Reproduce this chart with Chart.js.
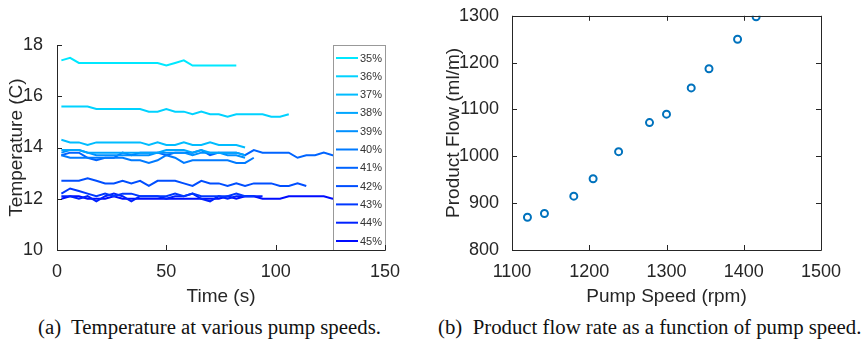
<!DOCTYPE html>
<html>
<head>
<meta charset="utf-8">
<script src="https://cdn.jsdelivr.net/npm/chart.js@4.4.1/dist/chart.umd.min.js"></script>
<style>
  body { margin: 0; background: #fff; width: 867px; height: 346px; position: relative; overflow: hidden; }
  canvas { position: absolute; top: 0; }
  #left { left: 0; }
  #right { left: 430px; }
  .cap { position: absolute; top: 315px; font-family: "Liberation Serif", "Times New Roman", serif; font-size: 20.8px; color: #111; white-space: pre; }
</style>
</head>
<body>
<canvas id="left" width="430" height="310"></canvas>
<canvas id="right" width="437" height="310"></canvas>
<div class="cap" id="capA" style="left:38px">(a)  Temperature at various pump speeds.</div>
<div class="cap" id="capB" style="left:438px">(b)  Product flow rate as a function of pump speed.</div>
<script>
// time samples (s) shared by all temperature runs
const times = [2, 6, 10, 14, 18, 22, 26, 30, 34, 38, 42, 46, 50, 54, 58, 62, 66, 70, 74, 78,
  82, 86, 90, 94, 98, 102, 106, 110, 114, 118, 122, 126, 130, 134, 138, 142, 146, 150];

const speedLabels = ["35%", "36%", "37%", "38%", "39%", "40%", "41%", "42%", "43%", "44%", "45%"];

const temp35 = [17.4, 17.5, 17.3, 17.3, 17.3, 17.3, 17.3, 17.3, 17.3, 17.3, 17.3, 17.3, 17.2, 17.3, 17.4, 17.2, 17.2, 17.2, 17.2, 17.2, 17.2];
const temp36 = [15.6, 15.6, 15.6, 15.6, 15.5, 15.5, 15.5, 15.5, 15.5, 15.5, 15.4, 15.4, 15.5, 15.4, 15.4, 15.3, 15.4, 15.3, 15.3, 15.2, 15.3, 15.3, 15.3, 15.3, 15.2, 15.2, 15.3];
const temp37 = [14.3, 14.2, 14.2, 14.1, 14.2, 14.2, 14.2, 14.2, 14.2, 14.2, 14.1, 14.2, 14.1, 14.1, 14.2, 14.1, 14.1, 14.2, 14.1, 14.1, 14.1, 14.0];
const temp38 = [13.9, 13.9, 13.9, 13.8, 13.8, 13.8, 13.8, 13.8, 13.8, 13.8, 13.8, 13.8, 13.9, 13.9, 13.9, 13.8, 13.9, 13.8, 13.8, 13.8, 13.8, 13.7];
const temp39 = [13.8, 13.9, 13.9, 13.8, 13.7, 13.7, 13.7, 13.7, 13.7, 13.7, 13.7, 13.8, 13.8, 13.8, 13.8, 13.7, 13.8, 13.8, 13.8, 13.7, 13.7, 13.6];
const temp40 = [13.7, 13.6, 13.6, 13.6, 13.6, 13.6, 13.6, 13.6, 13.5, 13.5, 13.4, 13.5, 13.7, 13.6, 13.4, 13.5, 13.5, 13.5, 13.5, 13.5, 13.4, 13.4, 13.6];
const temp41 = [13.7, 13.8, 13.8, 13.6, 13.5, 13.6, 13.6, 13.8, 13.7, 13.8, 13.8, 13.8, 13.7, 13.8, 13.8, 13.8, 13.9, 13.7, 13.8, 13.8, 13.8, 13.7,
  13.9, 13.8, 13.8, 13.8, 13.8, 13.6, 13.7, 13.7, 13.8, 13.7, 13.7, 13.7, 13.7, 13.7, 13.7, 13.7];
const temp42 = [12.7, 12.7, 12.7, 12.8, 12.7, 12.6, 12.6, 12.7, 12.6, 12.7, 12.5, 12.7, 12.7, 12.7, 12.6, 12.5, 12.7, 12.6, 12.6, 12.5, 12.6, 12.5, 12.6, 12.6, 12.6, 12.5, 12.5, 12.6, 12.5];
const temp43 = [12.2, 12.4, 12.3, 12.2, 12.1, 12.2, 12.1, 12.2, 12.2, 12.1, 12.1, 12.1, 12.1, 12.2, 12.1, 12.2, 12.1, 12.1, 12.1, 12.1, 12.2, 12.1, 12.1];
const temp44 = [12.1, 12.1, 12.0, 12.1, 11.9, 12.1, 12.2, 12.1, 11.9, 12.1, 12.1, 12.1, 12.0, 12.1, 12.1, 12.2, 12.0, 11.9, 12.1, 12.0, 12.1, 12.1, 12.1, 12.1];
const temp45 = [12.0, 12.1, 12.1, 12.0, 12.0, 12.0, 12.1, 12.0, 12.0, 12.0, 12.0, 12.0, 12.0, 12.0, 12.0, 12.0, 12.0, 12.0, 12.0, 12.1,
  12.0, 12.1, 12.1, 12.0, 12.0, 12.0, 12.1, 12.1, 12.1, 12.1, 12.1, 12.0, 12.1, 12.1, 12.1, 12.1, 12.1, 12.1];

const tempRuns = [temp35, temp36, temp37, temp38, temp39, temp40, temp41, temp42, temp43, temp44, temp45];
const runColors = ["#00e8ff", "#00d2ff", "#00bcff", "#00a6ff", "#0090ff", "#007aff", "#0064ff", "#004eff", "#0038ff", "#0022ff", "#000cff"];

const timeTicks = [0, 50, 100, 150];
const tempTicks = [10, 12, 14, 16, 18];

// pump speed vs flow
const pumpSpeed = [1120, 1142, 1180, 1205, 1238, 1278, 1300, 1332, 1355, 1392, 1416];
const productFlow = [870, 878, 915, 952, 1010, 1072, 1090, 1146, 1187, 1250, 1298];
const speedTicks = [1100, 1200, 1300, 1400, 1500];
const flowTicks = [800, 900, 1000, 1100, 1200, 1300];

const axisColor = "#262626";
const tickFont = { family: "'Liberation Sans', Arial, sans-serif", size: 18 };
const titleFont = { family: "'Liberation Sans', Arial, sans-serif", size: 19 };
const plain = (v) => String(v);

// inward tick marks + axis lines, MATLAB style
function axesPlugin(boxed) {
  return {
    id: "matlabAxes",
    afterDraw(chart) {
      const ctx = chart.ctx;
      const a = chart.chartArea;
      const xs = chart.scales.x, ys = chart.scales.y;
      ctx.save();
      ctx.strokeStyle = axisColor;
      ctx.lineWidth = 1;
      ctx.beginPath();
      xs.ticks.forEach((t) => {
        const px = Math.round(xs.getPixelForValue(t.value)) + 0.5;
        ctx.moveTo(px, a.bottom); ctx.lineTo(px, a.bottom - 5);
        if (boxed) { ctx.moveTo(px, a.top); ctx.lineTo(px, a.top + 5); }
      });
      ys.ticks.forEach((t) => {
        const py = Math.round(ys.getPixelForValue(t.value)) + 0.5;
        ctx.moveTo(a.left, py); ctx.lineTo(a.left + 5, py);
        if (boxed) { ctx.moveTo(a.right, py); ctx.lineTo(a.right - 5, py); }
      });
      const l = Math.round(a.left) + 0.5, r = Math.round(a.right) + 0.5;
      const t = Math.round(a.top) + 0.5, b = Math.round(a.bottom) + 0.5;
      ctx.moveTo(l, t); ctx.lineTo(l, b); ctx.lineTo(r, b);
      if (boxed) { ctx.lineTo(r, t); ctx.lineTo(l, t); }
      ctx.stroke();
      ctx.restore();
    },
  };
}

// legend box drawn inside the plot, right side
const legendPlugin = {
  id: "insideLegend",
  afterDatasetsDraw(chart) {
    const ctx = chart.ctx;
    const a = chart.chartArea;
    const x0 = 333, y0 = a.top, w = a.right - x0 + 1, h = a.bottom - a.top;
    ctx.save();
    ctx.fillStyle = "#fff";
    ctx.fillRect(x0, y0, w, h);
    ctx.strokeStyle = "#999";
    ctx.lineWidth = 1;
    ctx.strokeRect(x0 + 0.5, y0 + 0.5, w - 1, h);
    ctx.font = "11px 'Liberation Sans', Arial, sans-serif";
    ctx.textBaseline = "middle";
    chart.data.datasets.forEach((ds, i) => {
      const y = y0 + 13 + i * 18.3;
      ctx.strokeStyle = ds.borderColor;
      ctx.lineWidth = 2;
      ctx.beginPath();
      ctx.moveTo(x0 + 3, y); ctx.lineTo(x0 + 25, y);
      ctx.stroke();
      ctx.fillStyle = "#333";
      ctx.fillText(ds.label, x0 + 27, y + 0.5);
    });
    ctx.restore();
  },
};

new Chart(document.getElementById("left"), {
  type: "line",
  data: {
    datasets: tempRuns.map((run, i) => ({
      label: speedLabels[i],
      data: run.map((v, k) => ({ x: times[k], y: v })),
      borderColor: runColors[i],
      borderWidth: 2,
      pointRadius: 0,
      tension: 0,
      fill: false,
    })),
  },
  options: {
    responsive: false,
    animation: false,
    layout: { padding: { left: 0, top: 45, right: 45, bottom: 0 } },
    plugins: { legend: { display: false }, tooltip: { enabled: false } },
    scales: {
      x: {
        type: "linear", min: 0, max: 150,
        afterBuildTicks: (s) => { s.ticks = timeTicks.map((v) => ({ value: v })); },
        afterFit: (s) => { s.height = 60; },
        grid: { display: false }, border: { display: false },
        ticks: { color: axisColor, font: tickFont, padding: 3, maxRotation: 0, callback: plain },
        title: { display: true, text: "Time (s)", color: axisColor, font: titleFont, padding: { top: 0, bottom: 2 } },
      },
      y: {
        type: "linear", min: 10, max: 18,
        afterBuildTicks: (s) => { s.ticks = tempTicks.map((v) => ({ value: v })); },
        afterFit: (s) => { s.width = 57; },
        grid: { display: false }, border: { display: false },
        ticks: { color: axisColor, font: tickFont, padding: 6, callback: plain },
        title: { display: true, text: "Temperature (C)", color: axisColor, font: titleFont, padding: { top: 5, bottom: 0 } },
      },
    },
  },
  plugins: [legendPlugin, axesPlugin(false)],
});

new Chart(document.getElementById("right"), {
  type: "scatter",
  data: {
    datasets: [{
      label: "Product Flow",
      data: pumpSpeed.map((s, i) => ({ x: s, y: productFlow[i] })),
      borderColor: "#0072bd",
      backgroundColor: "#fff",
      borderWidth: 2,
      pointRadius: 3.5,
    }],
  },
  options: {
    responsive: false,
    animation: false,
    layout: { padding: { left: 0, top: 12, right: 46, bottom: 0 } },
    plugins: { legend: { display: false }, tooltip: { enabled: false } },
    scales: {
      x: {
        type: "linear", min: 1100, max: 1500,
        afterBuildTicks: (s) => { s.ticks = speedTicks.map((v) => ({ value: v })); },
        afterFit: (s) => { s.height = 60; },
        grid: { display: false }, border: { display: false },
        ticks: { color: axisColor, font: tickFont, padding: 3, maxRotation: 0, callback: plain },
        title: { display: true, text: "Pump Speed (rpm)", color: axisColor, font: titleFont, padding: { top: 0, bottom: 2 } },
      },
      y: {
        type: "linear", min: 800, max: 1300,
        afterBuildTicks: (s) => { s.ticks = flowTicks.map((v) => ({ value: v })); },
        afterFit: (s) => { s.width = 82; },
        grid: { display: false }, border: { display: false },
        ticks: { color: axisColor, font: tickFont, padding: 5, callback: plain },
        title: { display: true, text: "Product Flow (ml/m)", color: axisColor, font: titleFont, padding: { top: 12, bottom: 0 } },
      },
    },
  },
  plugins: [axesPlugin(true)],
});
</script>
</body>
</html>
